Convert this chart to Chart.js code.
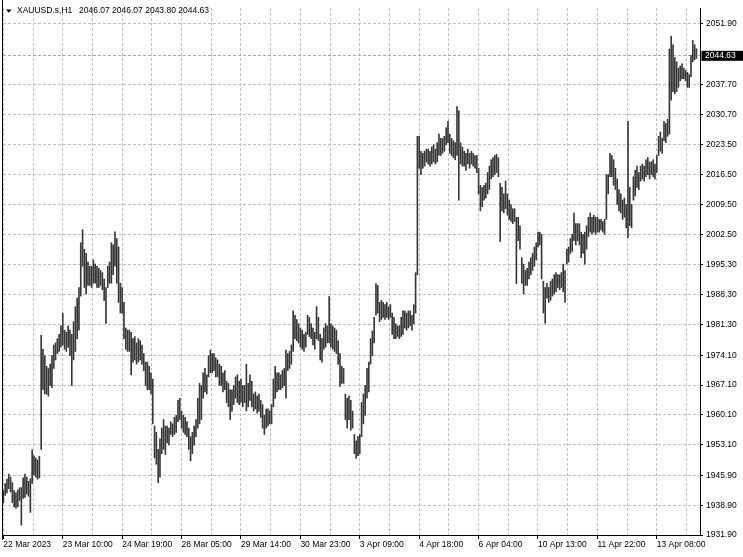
<!DOCTYPE html>
<html>
<head>
<meta charset="utf-8">
<script src="https://cdn.jsdelivr.net/npm/chart.js@4.4.1/dist/chart.umd.min.js"></script>
<style>
  html, body { margin: 0; padding: 0; background: #fff; }
  #wrap { position: relative; width: 743px; height: 557px; }
</style>
</head>
<body>
<div id="wrap"><canvas id="c" width="743" height="557"></canvas></div>
<script>
// XAUUSD H1, one entry per hourly bar (low / high)
const symbolTitle = 'XAUUSD.s,H1';
const lastQuote = ['2046.07', '2046.07', '2043.80', '2044.63'];
const lastPrice = 2044.63;

// a time label every 33 bars
const timeLabels = ['22 Mar 2023', '23 Mar 10:00', '24 Mar 19:00', '28 Mar 05:00', '29 Mar 14:00',
  '30 Mar 23:00', '3 Apr 09:00', '4 Apr 18:00', '6 Apr 04:00', '10 Apr 13:00', '11 Apr 22:00', '13 Apr 08:00'];

const priceTicks = [1931.90, 1938.90, 1945.90, 1953.10, 1960.10, 1967.10, 1974.10, 1981.30, 1988.30,
  1995.30, 2002.50, 2009.50, 2016.50, 2023.50, 2030.70, 2037.70, 2051.90];

const barLow = [
  1939.5, 1941.2, 1941.8, 1942.8, 1942, 1939.5, 1938.5, 1938.2, 1938.5, 1940,
  1934.2, 1940.5, 1940.7, 1941.5, 1941, 1937.2, 1944, 1946, 1945.5, 1945,
  1945.3, 1952, 1966, 1965, 1965, 1964.5, 1967, 1966.5, 1971, 1973,
  1974.5, 1975, 1976, 1976.5, 1975.5, 1975, 1976, 1974, 1967, 1973,
  1975, 1978, 1980, 1988, 1995, 1990, 1988.5, 1990.5, 1990.5, 1990,
  1991, 1991, 1990, 1990, 1990.5, 1989.5, 1987, 1981.6, 1990, 1991,
  1991, 1993, 1995, 1991, 1986.5, 1984, 1984, 1978, 1975.5, 1975,
  1975, 1969.5, 1972.5, 1973, 1972, 1972.5, 1973, 1972, 1970.5, 1967,
  1966, 1966, 1965, 1958, 1950, 1948.5, 1944.2, 1945.5, 1951, 1952,
  1950.8, 1953.5, 1953, 1955.5, 1955, 1955.5, 1956, 1958.5, 1959, 1957,
  1956, 1955.5, 1955, 1952, 1949.3, 1951, 1953, 1955, 1957, 1958,
  1959, 1964, 1965.5, 1965, 1969, 1970, 1970, 1970.5, 1969, 1969,
  1967, 1967, 1965.5, 1966, 1963, 1962, 1959, 1961, 1962.5, 1964,
  1963, 1962.5, 1963, 1962, 1963, 1961, 1962, 1963.5, 1962, 1961,
  1961.5, 1960.5, 1961, 1959.5, 1957, 1955.5, 1957, 1957.5, 1958, 1958,
  1962, 1964, 1965.5, 1966, 1966, 1966.5, 1967, 1964, 1970.5, 1971,
  1972, 1975, 1978, 1977.5, 1977, 1976, 1975.5, 1975, 1976, 1979,
  1978.5, 1978, 1976.5, 1975.5, 1978, 1977.5, 1973, 1972.5, 1975.5, 1976,
  1977, 1977, 1976, 1975.5, 1975, 1974.5, 1972, 1966.8, 1967.5, 1967.5,
  1959, 1957, 1959, 1956.5, 1957, 1951, 1949.9, 1950.5, 1951, 1955,
  1958, 1960, 1964, 1965.5, 1972, 1974, 1977, 1983.5, 1984, 1982,
  1982.5, 1983, 1982.5, 1983, 1982.5, 1983, 1979, 1978, 1978, 1978.5,
  1978, 1978.5, 1979, 1980.5, 1980, 1980.5, 1981, 1980, 1981.5, 1984,
  1993, 2018, 2016.5, 2018, 2018.5, 2019.5, 2019, 2018.5, 2019, 2019.5,
  2019, 2019.5, 2021, 2021, 2021.5, 2022, 2023.5, 2024, 2021.5, 2021,
  2020.5, 2020, 2021, 2010.5, 2019, 2018.5, 2018.5, 2017.5, 2019, 2018,
  2019, 2018.5, 2018, 2017, 2012, 2008, 2009, 2010.5, 2011, 2012,
  2013, 2015.5, 2016, 2016.5, 2017, 2016, 2000.8, 2008, 2007.5, 2008.5,
  2007, 2006, 2005.5, 2005, 2005.5, 1990.9, 2001, 1999, 1991, 1988.5,
  1990.5, 1990.5, 1992, 1993, 1994, 1995, 1996.5, 1999.5, 2000, 1992,
  1984, 1981.6, 1987.5, 1986.5, 1987, 1988, 1988.5, 1989, 1990, 1989.5,
  1990, 1989, 1986.5, 1995.5, 1996, 1998, 1998.5, 2001, 2000, 2001,
  2000, 1997, 1998, 1995.5, 1999, 2002, 2003, 2002.5, 2003, 2002.5,
  2003, 2003, 2003.5, 2003, 2002.5, 2006, 2012, 2016, 2016, 2014,
  2013, 2009.5, 2008, 2007.5, 2006, 2006.5, 2004, 2001.7, 2004.5, 2004,
  2010.5, 2011.5, 2013.5, 2013, 2015, 2015.5, 2015, 2016, 2016.5, 2015.5,
  2016.5, 2016, 2015.5, 2017, 2021, 2022, 2021.5, 2024.5, 2024, 2025.5,
  2026, 2034, 2036, 2035.5, 2036, 2037, 2038.5, 2039, 2039, 2038.5,
  2037, 2037, 2039.5, 2043, 2043.5, 2043.8
];

const barHigh = [
  1942.3, 1944, 1945, 1946.2, 1945.5, 1944.2, 1942.3, 1941.8, 1942.5, 1943,
  1943, 1945.3, 1946.2, 1945.5, 1944.5, 1945.1, 1951.9, 1950.5, 1950, 1949.5,
  1950.4, 1978.8, 1975.5, 1974, 1971.5, 1971, 1972, 1974, 1976.5, 1977,
  1978, 1979, 1981, 1984, 1980, 1979.5, 1981, 1980, 1979, 1982,
  1985.5, 1987.5, 1990, 2000.5, 2003.6, 1999, 1998, 1996, 1995, 1995,
  1996.5, 1995.5, 1995, 1994.5, 1994, 1993.5, 1992, 1990, 1995, 1996,
  2000.5, 2000, 2003.1, 2001.5, 1999.5, 1991, 1990, 1986.5, 1980.5, 1980,
  1980, 1979.5, 1978, 1978.5, 1977, 1978, 1977.5, 1976.5, 1974.5, 1972.5,
  1972.5, 1971.5, 1970, 1968.5, 1957.5, 1956, 1952, 1954.5, 1957, 1959,
  1957.5, 1957.5, 1957, 1958.5, 1958, 1959.5, 1960, 1963.5, 1964, 1961,
  1960, 1959.5, 1958.5, 1957, 1955, 1956, 1957.5, 1959, 1964, 1967.5,
  1967, 1970, 1971, 1969.5, 1974, 1975.3, 1974.5, 1974.5, 1973.5, 1973,
  1972, 1971.5, 1970, 1970.5, 1968, 1967.5, 1966, 1966, 1967, 1969,
  1969.5, 1968, 1968.5, 1967, 1967, 1972, 1967.5, 1969.5, 1968, 1965,
  1965.5, 1964.5, 1965, 1963.5, 1962.5, 1960, 1961.5, 1961.5, 1961, 1962.5,
  1968.5, 1971.5, 1970, 1970, 1969.5, 1970.5, 1971, 1975.3, 1974.5, 1975,
  1976.5, 1984.5, 1983.5, 1982.5, 1981.5, 1980.5, 1980, 1979, 1979.5, 1983.5,
  1983, 1981.5, 1980.5, 1979.5, 1985.5, 1983, 1979, 1978, 1980.5, 1981.5,
  1981, 1987.9, 1981.5, 1981, 1980.5, 1980, 1977.5, 1974.5, 1971.5, 1971,
  1965, 1964, 1964.5, 1963.5, 1961, 1955.5, 1954, 1955, 1955.5, 1963,
  1965, 1967, 1971, 1972.5, 1978, 1979.8, 1983, 1990.9, 1990.5, 1986.5,
  1987, 1986.5, 1986, 1986.5, 1985.5, 1986, 1984, 1983, 1981.5, 1981,
  1981, 1983, 1984.5, 1984.5, 1984, 1984.5, 1984.5, 1983.5, 1986, 1993.5,
  2025.5, 2025.5, 2022, 2021.5, 2022, 2022.5, 2022.5, 2022, 2023, 2023.5,
  2022.5, 2024, 2026, 2025, 2025, 2025.5, 2027.5, 2029, 2026, 2025,
  2024.5, 2024, 2032.5, 2031.5, 2024, 2023, 2022, 2021.5, 2022.5, 2021.5,
  2022, 2021.5, 2021, 2021, 2018, 2014, 2013.5, 2014, 2014.5, 2017,
  2018.5, 2020, 2020.5, 2021, 2021.3, 2020.5, 2014.5, 2013.5, 2012, 2015,
  2012, 2010.5, 2009.5, 2008.5, 2008.5, 2006.5, 2006.5, 2004.5, 1997, 1995.5,
  1994, 1994.5, 1996, 1997, 1998, 1999.5, 2000.5, 2003, 2003, 2002.5,
  1991.5, 1990, 1991, 1990, 1991.5, 1992, 1993, 1993.5, 1993, 1993,
  1993.5, 1995.5, 1994, 1999, 1999.5, 2001.5, 2002.5, 2007.5, 2005, 2005,
  2005, 2003, 2002.5, 2003, 2004.5, 2006.5, 2007.5, 2006.5, 2007, 2006.5,
  2006.5, 2006, 2006, 2005.5, 2006, 2016.5, 2016.5, 2021.5, 2021, 2020,
  2018, 2015.5, 2013, 2012, 2010.5, 2011, 2009.5, 2029, 2013.5, 2009.5,
  2016, 2017.5, 2018.5, 2017, 2018.5, 2019, 2018.5, 2020, 2020.5, 2019.5,
  2019.5, 2020, 2019, 2021, 2025.5, 2026.5, 2025, 2029, 2028.5, 2029.5,
  2046, 2049, 2047, 2044, 2043, 2041.5, 2042, 2042.5, 2041.5, 2041,
  2040.5, 2040, 2044.5, 2048, 2047, 2046.07
];

const FONT = '"Liberation Sans", Arial, sans-serif';
Chart.defaults.font.family = FONT;
Chart.defaults.font.size = 8.5;
Chart.defaults.color = '#000';

const GRID = '#c0c0c0';
const BARS_PER_LABEL = 33;

const mt4Frame = {
  id: 'mt4Frame',
  beforeDatasetsDraw(chart) {
    const { ctx, chartArea: a, scales: { y } } = chart;
    const py = Math.round(y.getPixelForValue(lastPrice)) + 0.5;
    ctx.save();
    ctx.strokeStyle = '#a8a8a8';
    ctx.setLineDash([3, 2]);
    ctx.beginPath();
    ctx.moveTo(a.left, py);
    ctx.lineTo(a.right, py);
    ctx.stroke();
    ctx.restore();
  },
  afterDraw(chart) {
    const { ctx, chartArea: a, scales: { y } } = chart;
    ctx.save();
    // left frame line
    ctx.strokeStyle = '#000';
    ctx.lineWidth = 1;
    ctx.beginPath();
    ctx.moveTo(a.left - 0.5, 0);
    ctx.lineTo(a.left - 0.5, a.bottom + 5);
    ctx.stroke();

    // title
    ctx.fillStyle = '#000';
    ctx.beginPath();
    ctx.moveTo(6, 9.5);
    ctx.lineTo(11.5, 9.5);
    ctx.lineTo(8.75, 12.8);
    ctx.closePath();
    ctx.fill();
    ctx.font = '8.5px ' + FONT;
    ctx.textBaseline = 'middle';
    ctx.fillText(symbolTitle, 17, 11);
    ctx.fillText(lastQuote.join(' '), 79, 11);

    // current price tag
    const py = y.getPixelForValue(lastPrice);
    ctx.fillStyle = '#000';
    ctx.fillRect(a.right + 1.5, py - 4, 41.5, 10);
    ctx.fillStyle = '#fff';
    ctx.fillText(lastPrice.toFixed(2), a.right + 5, py + 1);
    ctx.restore();
  }
};

new Chart(document.getElementById('c'), {
  type: 'bar',
  data: {
    datasets: [{
      data: barLow.map((lo, i) => ({ x: i, y: [lo, barHigh[i]] })),
      backgroundColor: '#383838',
      borderWidth: 0,
      barThickness: 1,
      grouped: false
    }]
  },
  options: {
    responsive: false,
    animation: false,
    layout: { padding: { left: 3, top: 0, right: 0, bottom: 0 } },
    plugins: { legend: { display: false }, tooltip: { enabled: false } },
    scales: {
      x: {
        type: 'linear',
        offset: false,
        min: -0.2,
        max: 387,
        afterFit: (s) => { s.height = 22; },
        afterBuildTicks: (s) => {
          const t = [];
          for (let k = 0; k <= 23; k++) t.push({ value: k * BARS_PER_LABEL / 2 });
          s.ticks = t;
        },
        ticks: {
          autoSkip: false, maxRotation: 0, minRotation: 0, align: 'start', padding: 1,
          callback: (v, idx) => (idx % 2 === 0 ? (timeLabels[idx / 2] || '') : '')
        },
        grid: {
          offset: false,
          color: GRID,
          tickLength: 4,
          tickColor: (c) => (c.index % 2 === 0 ? '#000' : 'rgba(0,0,0,0)')
        },
        border: { display: true, color: '#000', dash: [3, 2] }
      },
      y: {
        position: 'right',
        min: 1931.9,
        max: 2055.6,
        afterFit: (s) => { s.width = 43; },
        afterBuildTicks: (s) => { s.ticks = priceTicks.map(v => ({ value: v })); },
        ticks: { padding: 3, callback: (v) => v.toFixed(2) },
        grid: { color: GRID, tickLength: 3, tickColor: '#000' },
        border: { display: true, color: '#000', dash: [3, 2] }
      }
    }
  },
  plugins: [mt4Frame]
});
</script>
</body>
</html>
